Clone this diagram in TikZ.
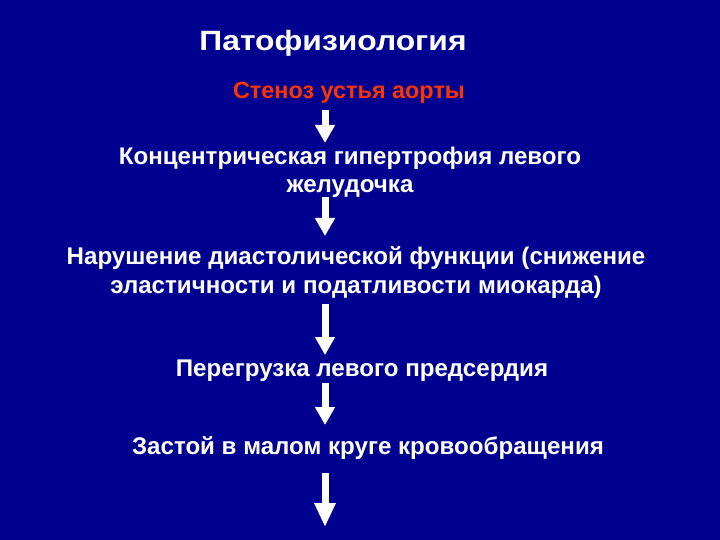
\documentclass[tikz,border=0pt]{standalone}
\usepackage{fontspec}
\setmainfont{Liberation Sans}
\newfontfamily\widefont[FakeStretch=1.14]{Liberation Sans}
\usetikzlibrary{arrows.meta, positioning}
\definecolor{slideblue}{RGB}{0,0,144}
\definecolor{stenosisred}{RGB}{255,51,0}
\tikzset{
    every node/.style={inner sep=0pt, align=center, text=white}, % white text, no padding
    step text/.style={font=\bfseries\fontsize{24.2}{28.5}\selectfont, anchor=base},
    flow/.style={white, line width=7bp, -{Triangle[length=18bp, width=19bp]}}, % the fat white arrows
}

\begin{document}
\begin{tikzpicture}[x=1bp, y=-1bp]
    \useasboundingbox[fill=slideblue] (0,0) rectangle (720,540);

    \node[font=\widefont\bfseries\fontsize{28}{32}\selectfont, anchor=base] (title) at (333,51) {Патофизиология};
    \node[step text, text=stenosisred, font=\bfseries\fontsize{23.5}{27}\selectfont] (stenosis) at (349,99) {Стеноз устья аорты};
    \node[step text] (hypertrophy) at (350,193) {Концентрическая гипертрофия левого\\желудочка};
    \node[step text] (diastole) at (356,293) {Нарушение диастолической функции (снижение\\эластичности и податливости миокарда)};
    \node[step text] (atrium) at (362,376) {Перегрузка левого предсердия};
    \node[step text] (congestion) at (368,454) {Застой в малом круге кровообращения};

    \coordinate (ax) at (325,0);
    \coordinate (tail) at (325,527);

    % arrows hang off the baselines of the texts
    \draw[flow] ([yshift=-11bp]stenosis.base -| ax) -- ([yshift=50bp]hypertrophy.base -| ax);
    \draw[flow] ([yshift=-4bp]hypertrophy.base -| ax) -- ([yshift=57bp]diastole.base -| ax);
    \draw[flow] ([yshift=-11bp]diastole.base -| ax) -- ([yshift=21bp]atrium.base -| ax);
    \draw[flow] ([yshift=-7bp]atrium.base -| ax) -- ([yshift=29bp]congestion.base -| ax);
    \draw[flow, -{Triangle[length=24bp, width=20bp]}] ([yshift=-19bp]congestion.base -| ax) -- (tail);
\end{tikzpicture}
\end{document}
